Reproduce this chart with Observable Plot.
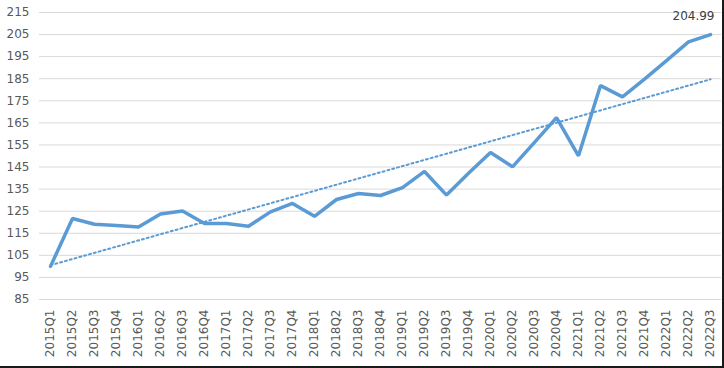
<!DOCTYPE html>
<html>
<head>
<meta charset="utf-8">
<script src="https://cdn.jsdelivr.net/npm/d3@7"></script>
<script src="https://cdn.jsdelivr.net/npm/@observablehq/plot@0.6"></script>
<style>
  html, body { margin: 0; padding: 0; background: #fff; }
  #chart { width: 722px; height: 366px; border-right: 2px solid #1a1a1a; border-bottom: 2px solid #1a1a1a; }
  svg { display: block; }
</style>
</head>
<body>
<div id="chart"></div>
<script>
const quarters = ["2015Q1","2015Q2","2015Q3","2015Q4","2016Q1","2016Q2","2016Q3","2016Q4",
  "2017Q1","2017Q2","2017Q3","2017Q4","2018Q1","2018Q2","2018Q3","2018Q4",
  "2019Q1","2019Q2","2019Q3","2019Q4","2020Q1","2020Q2","2020Q3","2020Q4",
  "2021Q1","2021Q2","2021Q3","2021Q4","2022Q1","2022Q2","2022Q3"];
const values = [100, 121.7, 119.1, 118.5, 117.8, 123.7, 125.1, 119.4,
  119.4, 118.2, 124.7, 128.5, 122.7, 130.3, 133.0, 132.1,
  135.7, 143.0, 132.3, 142.2, 151.6, 145.1, 156.2, 167.4,
  150.1, 181.9, 176.8, 184.8, 193.2, 201.7, 204.99];
const yTicks = [85, 95, 105, 115, 125, 135, 145, 155, 165, 175, 185, 195, 205, 215];

const data = quarters.map((q, i) => ({i, q, v: values[i]}));
const last = data[data.length - 1];
const font = "DejaVu Sans, sans-serif";

const chart = Plot.plot({
  width: 722,
  height: 366,
  marginTop: 12,
  marginBottom: 67,
  marginLeft: 39,
  marginRight: 1,
  style: {fontFamily: font, fontSize: "12px", color: "#595959", background: "#fff"},
  x: {type: "linear", domain: [-0.5, 30.5]},
  y: {domain: [85, 215]},
  marks: [
    Plot.gridY(yTicks, {stroke: "#d9d9d9", strokeOpacity: 1, strokeWidth: 1}),
    Plot.axisY(yTicks, {tickSize: 0, tickPadding: 10, fill: "#595959", fontSize: 12, label: null}),
    Plot.axisX(d3.range(quarters.length), {tickFormat: i => quarters[i], tickRotate: -90, tickSize: 0, tickPadding: 10, fill: "#595959", fontSize: 12, label: null}),
    Plot.linearRegressionY(data, {x: "i", y: "v", ci: 0, stroke: "#5B9BD5", strokeWidth: 2, strokeDasharray: "2,3"}),
    Plot.line(data, {x: "i", y: "v", stroke: "#5B9BD5", strokeWidth: 3.5, strokeLinejoin: "miter", strokeLinecap: "round"}),
    Plot.text([last], {x: "i", y: "v", text: d => d.v.toFixed(2), textAnchor: "end", dx: 4, dy: -18, fill: "#404040", fontSize: 12})
  ]
});
document.getElementById("chart").appendChild(chart);
</script>
</body>
</html>
